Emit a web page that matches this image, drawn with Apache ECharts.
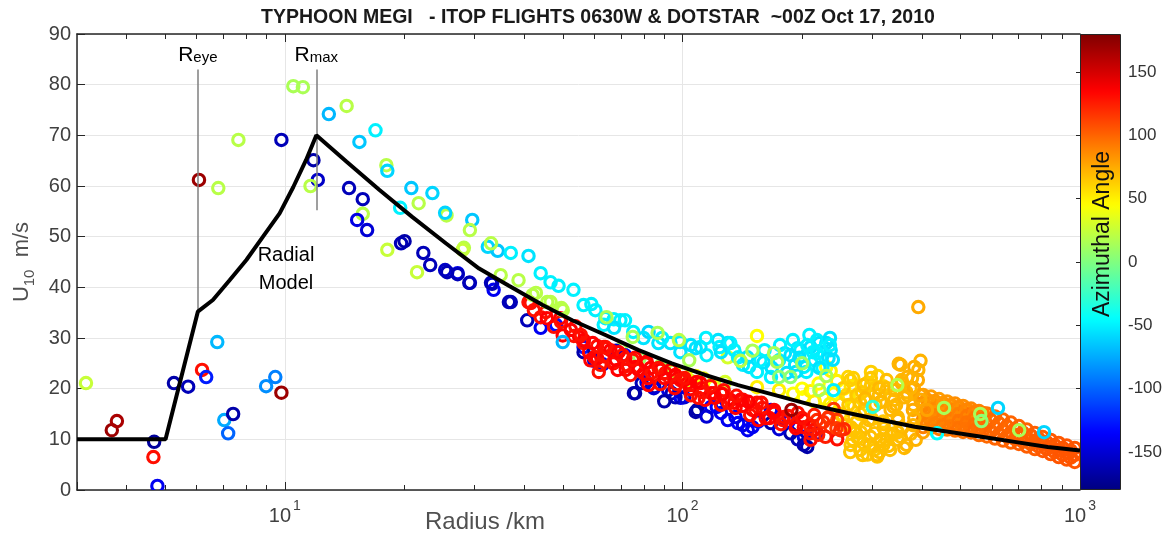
<!DOCTYPE html>
<html>
<head>
<meta charset="utf-8">
<script src="https://cdn.jsdelivr.net/npm/echarts@6/dist/echarts.min.js"></script>
<style>
  html, body { margin: 0; padding: 0; background: #fff; }
  #chart { width: 1165px; height: 536px; }
</style>
</head>
<body>
<div id="chart"></div>
<script>
// Observations: [radius km, U10 m/s, azimuthal angle deg]
const coreObs = [
  [3.16,21.1,25],[3.67,11.8,170],[3.78,13.6,165],[4.69,9.5,-170],[4.67,6.5,130],[4.78,0.8,-140],
  [5.26,21.1,-165],[5.71,20.4,-160],[6.19,23.7,130],[6.34,22.3,-125],[6.76,29.2,-70],[7.04,13.8,-75],
  [7.2,11.2,-100],[7.41,15.0,-165],[8.97,20.5,-85],[9.46,22.3,-90],[9.8,19.2,170],
  [6.08,61.2,170],[6.8,59.6,20],[7.64,69.1,20],[9.8,69.1,-160],[10.5,79.7,15],[11.1,79.5,15]
];
const eyewallObs = [
  [11.8,65.1,-165],[12.1,61.2,-155],[11.6,60.0,20],[12.9,74.2,-70],[14.3,75.8,20],[14.5,59.6,-160],
  [15.4,68.7,-65],[16.9,71.0,-50],[18.0,64.1,20],[18.1,63.0,-60],[15.7,57.4,-160],[15.7,54.5,20],
  [15.2,53.3,-145],[16.1,51.3,-150],[19.5,55.7,-50],[20.8,59.6,-65],[21.7,56.6,20],[23.5,58.6,-60],
  [25.5,54.2,20],[25.3,54.7,-60],[29.6,53.3,-65],[29.2,51.3,20],[19.6,48.7,-160],[20.0,49.1,-165],
  [18.1,47.4,25],[22.3,46.8,-160],[23.2,44.4,-160],[21.5,43.0,25],[25.3,43.4,-155],[27.2,42.8,-140],
  [29.1,40.9,-160],[28.0,47.4,25],[25.6,43.0,-160],[27.2,42.6,-160],[29.2,40.9,-160],[33.0,40.9,-160]
];
const upperObs = [
  [28.2,47.8,20],[32.4,48.0,-60],[34.3,47.2,-65],[33.0,48.7,20],[37.0,46.8,-50],[41.0,46.2,-55],
  [34.9,42.4,20],[38.7,41.4,20],[44.0,42.8,-50],[46.6,41.0,-50],[48.8,40.3,-50],[53.2,39.5,-50],
  [42.0,38.5,20],[45.7,37.1,20],[50.0,35.5,20],[56.4,36.5,-50],[59.0,36.7,-50],[60.4,35.5,-50],
  [64.0,33.9,-50],[67.2,33.7,-50],[69.8,33.5,-50],[71.7,33.5,-50],[82.2,31.2,-60],[87.0,29.0,-55],
  [93.3,29.0,-55],[98.8,29.2,-50],[98.8,27.2,-55],[108,28.0,-55],[115,26.6,-50],[123,29.6,-55],
  [124,28.2,-50],[130,29.0,-55],[138,26.2,-50],[142,24.7,-50],[147,24.3,-55],[154,23.3,-50],
  [160,25.2,-55],[175,25.6,-50],[181,27.0,-55],[198,27.6,-50],[210,28.2,-55],[221,29.0,-55],
  [236,27.6,-55],[223,26.2,-50],[202,24.3,-50],[183,23.1,-55],[167,22.3,-50],[111,28.2,-55],
  [132,29.0,-50],[157,25.6,-50],[195,28.0,-55],[206,28.6,-50],[230,29.0,-55],[218,27.0,-50],
  [192,24.7,-55],[215,25.6,-50],[233,26.0,-55],[218,29.6,-50],[235,30.0,-55],[205,23.3,-50],
  [187,26.6,-55],[225,24.1,-50],
  [63.4,32.6,-50],[67.3,32.0,-55],[75.2,31.2,-50],[79.8,30.0,-55],[88.9,30.0,-50],[105,28.6,-55],
  [114.6,30.0,-50],[125,27.2,-55],[135,27.6,-50],[145.7,26.2,-55],[160.9,27.6,-50],[167.8,24.1,-55],
  [189.6,29.6,-50],[196.8,26.1,-55],[213,27.2,-50],[221,24.1,-55],[235,28.6,-50],[239,25.7,-55],
  [208.6,30.6,-50],[193,23.3,-55],[176,28.6,-50],
  [98,29.6,20],[64.4,34.1,15],[75,30.2,15],[86.6,31.0,15],[104,25.6,15],[170,27.0,15],
  [175,22.3,5],[187,22.3,5],[221,19.7,15],[173,25.3,15],[42.8,38.9,20],[46.6,37.1,20],[49.6,35.9,20],
  [150,27.5,15],[200,25.0,10],[140,25.5,20],[230,22.5,15]
];
const yellowObs = [
  [130,26.2,30],[154,30.4,45],[230,24.3,45],[202,18.3,45],[175,19.7,50],[154,20.3,50],
  [105,21.5,35],[113,22.0,40],[120,20.5,45],[128,21.3,30],[95,23.5,25],[88,24.5,15],[78,26.0,10],
  [70,27.8,15],[100,23.0,45],[108,22.5,40],
  [200,20.0,45],[210,19.5,50],[220,21.0,45],[228,18.0,50],[250,17.0,55],[270,16.5,60],[280,15.0,60],
  [300,14.0,65],[320,13.5,65],[236,23.5,50],[245,21.5,50],[255,20.0,50],[240,19.0,45],[262,18.5,55],
  [261,22.3,60],[265,20.5,55],[275,18.5,60],[290,21.0,60],[305,19.0,65],[320,20.5,65],[335,18.5,65],
  [310,22.5,60],[288,17.8,65],[190,19.0,45],[215,17.5,50],[235,17.0,50],[250,15.0,55],
  [269,22.1,62],[283,19.3,65],[298,20.7,65],[312,18.7,68],[327,20.1,68],[341,17.8,70],[298,23.3,62],
  [356,21.7,70],[366,19.3,70],[381,16.8,72],[334,15.8,70],[306,16.8,68],[280,17.2,65],[258,18.7,60],
  [253.7,20.1,65],[264.3,21.7,62],[274,18.7,65],[285.7,20.7,68],[297.9,22.1,65],[312.3,20.1,70],
  [326.3,21.7,68],[341.5,19.7,70],[355.9,21.1,72],[368,18.7,72],[382,20.1,75],[396.6,18.7,78],
  [261.6,16.8,65],[287.4,15.8,68],[315.9,17.4,70],[344.6,16.8,72],[379.9,15.8,75],
  [270,11.8,66],[302,8.5,66],[265,12.4,66],[281,11.4,66],[297,10.5,68],[315,9.9,68],[334,10.8,68],
  [354,10.5,68],[285,9.3,66],[304,7.9,66],[268,9.9,66],[320,8.9,68],[348,11.4,68],
  [258,12.8,66],[273,11.4,66],[288,12.4,68],[304,11.2,68],[321,12.2,68],[339,11.1,68],[357,12.2,70],
  [375,11.1,70],[265,8.9,66],[280,7.9,66],[296,8.9,68],[313,7.5,68],[330,8.7,68],[348,9.9,68],
  [366,8.9,70],[292,7.0,66],[309,6.6,66],[276,10.3,66],[326,9.9,68],
  [253.7,14.2,66],[274,13.4,66],[294.5,13.8,68],[320.8,13.0,68],[348.5,13.8,70],[380.2,12.8,72],
  [264.3,7.5,66],[284,6.9,66],[308.7,6.9,68],[332.8,7.9,68],[361.4,8.3,70],[386.2,9.9,72],[402.7,11.4,78],
  [288,18.1,70],[315,17.4,70],[340,16.4,70],[361,18.3,72],[375,20.1,72],[391,21.7,75],[383,24.3,75],
  [354,24.7,72],[368,22.3,72],[397,17.8,75],[348,14.4,70],[383,14.2,72],[412,15.8,78],
  [392,36.1,75],[350,24.9,72],[397,25.5,72],[392,23.7,72],[378,22.1,72]
];
const orangeBandObs = [
  [403,18.75,80],[403,17.17,85],[403,15.59,88],[403,14.01,88],[403,12.43,90],
  [422,18.45,80],[422,16.97,85],[422,15.39,88],[422,13.82,90],[422,12.33,90],
  [442,17.96,80],[442,16.48,85],[442,15.00,90],[442,13.52,90],[442,12.04,92],
  [463,17.47,82],[463,16.08,88],[463,14.70,90],[463,13.32,92],[463,11.94,92],
  [485,17.07,85],[485,15.79,90],[485,14.41,92],[485,13.03,95],[485,11.74,95],
  [508,16.58,85],[508,15.30,92],[508,14.01,95],[508,12.73,95],[508,11.45,95],
  [532,16.08,88],[532,14.90,95],[532,13.72,95],[532,12.53,95],[532,11.35,97],
  [557,15.59,90],[557,14.41,95],[557,13.22,97],[557,12.04,97],[557,10.85,97],
  [583,15.10,95],[583,12.83,98],[583,10.56,98],
  [611,14.51,97],[611,12.33,100],[611,10.16,100],
  [640,13.91,98],[640,11.84,100],[640,9.77,100],
  [670,13.32,100],[670,11.35,100],[670,9.37,100],
  [702,12.63,100],[702,10.85,102],[702,9.08,102],
  [735,11.94,100],[735,10.26,102],[735,8.58,102],
  [770,11.25,102],[770,9.67,102],[770,8.09,102],
  [806,10.46,102],[806,9.08,104],[806,7.70,104],
  [844,9.87,104],[844,8.49,104],[844,7.10,104],
  [884,9.28,104],[884,7.89,105],[884,6.51,105],
  [926,8.78,105],[926,7.40,105],[926,6.02,105],
  [970,8.29,105],[970,6.91,105],[970,5.53,105],
  [412.1,17.86,82],[412.1,16.28,86],[412.1,14.70,88],[412.1,13.12,90],
  [431.7,17.56,82],[431.7,15.99,86],[431.7,14.41,88],[431.7,13.03,90],
  [452.1,17.17,82],[452.1,15.69,88],[452.1,14.21,90],[452.1,12.73,92],
  [473.5,16.78,84],[473.5,15.30,88],[473.5,13.91,92],[473.5,12.53,92],
  [495.9,16.38,86],[495.9,15.00,90],[495.9,13.62,94],[495.9,12.24,95],
  [519.4,15.89,88],[519.4,14.60,93],[519.4,13.32,95],[519.4,12.04,95],
  [543.9,15.39,90],[543.9,14.21,95],[543.9,13.03,96],[543.9,11.84,97],
  [569.6,15.20,92],[569.6,14.01,96],[569.6,12.83,97],[569.6,11.64,98],
  [596.6,13.82,98],[596.6,11.45,100],
  [624.8,13.22,98],[624.8,11.05,100],
  [654.4,12.63,100],[654.4,10.56,100],
  [685.3,12.04,100],[685.3,10.07,101],
  [717.8,11.35,100],[717.8,9.57,102],
  [751.7,10.76,102],[751.7,9.08,102],
  [787.3,10.16,102],[787.3,8.58,103],
  [824.5,9.47,103],[824.5,8.09,104],
  [863.6,8.88,104],[863.6,7.50,104],
  [904.5,8.29,105],[904.5,6.91,105],
  [947.3,7.80,105],[947.3,6.41,105]
];
const redObs = [
  [41,37.1,130],[44,34.1,130],[41.5,36.9,130],[47.5,32.2,130],[50,30.5,135],[55,30.2,135],
  [61,26.0,135],[64,28.2,130],[67,25.0,135],[72,23.7,135],[77,24.3,135],[80,23.0,135],
  [88,23.7,135],[95,22.3,135],[103,21.1,135],[118,19.1,135],[135,17.2,135],
  [56.4,29.0,130],[63.4,28.2,130],[60,26.2,135],[67.2,25.2,130],[71.8,26.0,130],[76.2,24.3,135],
  [80.7,25.0,130],[83.1,24.1,135],[90.6,23.1,130],[96,22.7,135],[98.8,21.7,130],[105,20.7,135],
  [112,20.1,130],[120,19.1,135],[127,19.7,130],[132,17.8,135],[142,17.8,130],[150,15.8,135],
  [158,17.2,130],[170,15.8,135],[180,14.4,130],[195,15.2,130],[202,12.4,135],[210,11.2,130],
  [218,13.8,120],[236,12.4,115],[245,13.8,110],
  [101,21.7,130],[111,21.1,135],[125,19.1,130],[140,17.8,135],[154,17.2,130],[170,15.2,130],
  [202,13.8,135],[214,11.8,130],[233,14.4,110],
  [58.7,25.6,135],[62.2,24.7,130],[68.7,23.7,135],[74,22.7,130],[81.8,22.1,135],[88,20.9,130],
  [95.6,20.1,135],[105,18.7,130],[114,17.8,135],[125,16.8,130],[136,16.2,135],[148,14.8,130],
  [162,14.2,135],[177,13.0,130],[193,12.2,135],[210,9.9,130],[229,10.5,125],
  [45.3,35.1,130],[49.3,33.9,135],[53.8,32.3,130],[240,16.0,115],[245,10.0,130],[255,12.0,120],
  [58.2,27.2,135],[63.4,26.4,130],[68.0,25.7,135],[72.9,24.5,130],[77.6,23.7,135],[83.7,23.1,130],
  [90.1,22.1,135],[96.8,20.9,130],[104.6,19.9,135],[112.5,19.3,130],[120.8,18.2,135],[130.3,17.2,130],
  [141.5,16.6,135],[152.5,15.8,130],[165.5,14.2,135],[179,13.8,130],[193,12.8,135],[209,12.8,125],
  [226,13.4,120],[244,12.2,115],
  [53.3,30.4,130],[56.5,29.6,135],[61.0,28.4,130],[65.9,27.6,135],[70.7,26.6,130],[76.0,26.1,135],
  [42.3,35.5,130],[45.6,33.9,135],[49.5,33.2,130],[52.4,31.6,135],[55.5,30.6,130],[59.5,29.0,135],
  [64.5,28.0,130],[69.1,27.2,135],[75.0,25.7,130],[81.3,25.3,135],[87.1,24.1,130],[93.4,23.7,135],
  [101.2,22.1,130],[108.5,21.3,135],[117.6,20.5,130],[126.1,18.9,135],[136.7,18.6,130],[146.5,17.4,135],
  [158.9,16.2,130],[170.3,15.4,135],[184.6,14.6,130],[200.1,14.2,130],[214.5,14.8,125],[232.6,14.2,118],
  [249.3,11.8,120],[61.6,23.3,130],[82.2,20.7,135],[109.7,18.2,130],[155.2,13.8,135],[219.5,10.9,125]
];
const blueObs = [
  [33.2,40.7,-160],[33.5,39.5,-140],[37,37.1,-160],[40.7,33.5,-160],[44,32.0,-140],[48.1,32.6,-130],
  [36.6,37.1,-160],[56.4,28.2,-130],[71.7,26.6,-135],[76,19.1,-165],[79,21.1,-160],[85,20.3,-165],
  [94,19.1,-160],[99,18.2,-140],[109,15.8,-165],[122,16.4,-135],[138,13.2,-135],
  [56.4,27.2,-165],[75.5,19.1,-165],[81.2,21.3,-145],[84.7,20.1,-150],[92.1,19.7,-145],[96,18.3,-160],
  [101,18.3,-150],[108,15.4,-165],[118,16.4,-135],[125,15.2,-140],[136,14.4,-140],[142,12.8,-145],
  [150,12.4,-140],[167,13.2,-165],[167,15.8,-140],[187,11.2,-165],[202,10.5,-140],[206,8.5,-165],
  [218,11.2,-140],[146,11.8,-140],[214,11.8,-140],[202,8.9,-165],[68,27.5,-150],[63,24.8,-140],
  [115,14.5,-150],[130,13.8,-140],[155,13.5,-135],[175,12.0,-150],[195,10.0,-160],[185,13.5,-135],
  [90,17.5,-165],[60,25.5,-150]
];
const accentObs = [
  [455,16.2,15],[437,11.2,-45],[561,15.0,15],[565,13.6,5],[622,16.2,-60],[703,11.8,15],
  [812,11.4,-60],[347,20.7,20],[301,16.4,-30],[240,19.7,-50],[50,29.2,-70],[188,15.8,170]
];

// Radial wind model
const modelRadius = [3, 5.01, 6.04, 6.59, 7.26, 8.0, 8.81, 9.7, 10.5, 11.3, 12.0, 14.3, 17.3, 20.9,
  25.4, 30.8, 36.6, 44.5, 52.8, 64.0, 77.6, 94.0, 114, 138, 211, 261, 317, 384, 466, 565, 685, 830, 1000];
const modelSpeed = [10, 10, 35.2, 37.5, 41.4, 45.4, 50.0, 54.6, 59.8, 65.1, 70.0, 64.8, 59.2, 53.9,
  48.7, 43.7, 40.3, 36.5, 33.5, 30.6, 27.6, 25.0, 22.7, 20.7, 16.8, 15.2, 13.8, 12.5, 11.5, 10.5, 9.5, 8.5, 7.8];
const rEye = 6.04, rMax = 12.0;

// Axis ticks
const xMinorTicks = [4,5,6,7,8,9,20,30,40,50,60,70,80,90,200,300,400,500,600,700,800,900];
const xMajorTicks = [10, 100, 1000];
const angleTicks = [-150,-100,-50,0,50,100,150];

// MATLAB jet colormap, evenly spaced stops
const jet = ['#000080','#0000ff','#0080ff','#00ffff','#80ff80','#ffff00','#ff8000','#ff0000','#800000'];

const FONT = '"Liberation Sans", Arial, Helvetica, sans-serif';
const AX = '#262626';
const GRID_C = '#e6e6e6';

const observations = [].concat(orangeBandObs, yellowObs, blueObs, redObs, upperObs, eyewallObs, coreObs, accentObs);

const chart = echarts.init(document.getElementById('chart'), null, { renderer: 'canvas' });

function logAxis(extra) {
  return Object.assign({
    type: 'log', logBase: 10, min: 3, max: 1000, gridIndex: 0,
    axisLine: { show: false }, axisLabel: { show: false }, splitLine: { show: false },
    axisTick: { show: false }
  }, extra);
}

const option = {
  animation: false,
  backgroundColor: '#fff',
  title: {
    text: 'TYPHOON MEGI   - ITOP FLIGHTS 0630W & DOTSTAR  ~00Z Oct 17, 2010',
    left: 598, top: 8, textAlign: 'center', padding: 0,
    textStyle: { fontFamily: FONT, fontWeight: 'bold', fontSize: 19.5, color: '#1a1a1a' }
  },
  grid: [
    { left: 77, top: 34, width: 1003, height: 456, show: false },
    { left: 1080, top: 34, width: 41, height: 456, show: false }
  ],
  xAxis: [
    logAxis({
      position: 'bottom',
      axisLine: { show: true, onZero: false, lineStyle: { color: AX, width: 1.5 } },
      axisTick: { show: true, inside: true, length: 8, lineStyle: { color: AX } },
      splitLine: { show: true, lineStyle: { color: GRID_C, width: 1 } },
      axisLabel: {
        show: true, margin: 9,
        formatter: v => {
          const e = Math.log10(v);
          if (Math.abs(e - Math.round(e)) > 1e-6) return '';
          return '{b|10}{e|' + Math.round(e) + '}';
        },
        rich: {
          b: { fontSize: 20, color: '#404040', fontFamily: FONT, padding: [7, 0, 0, 0] },
          e: { fontSize: 14, color: '#404040', fontFamily: FONT, verticalAlign: 'top', padding: [0, 0, 0, 2] }
        }
      }
    }),
    logAxis({
      position: 'bottom',
      axisTick: { show: true, inside: true, length: 5, customValues: xMinorTicks, lineStyle: { color: AX } }
    }),
    logAxis({
      position: 'top',
      axisLine: { show: true, onZero: false, lineStyle: { color: AX, width: 1.5 } },
      axisTick: { show: true, inside: true, length: 8, customValues: xMajorTicks, lineStyle: { color: AX } }
    }),
    logAxis({
      position: 'top',
      axisTick: { show: true, inside: true, length: 5, customValues: xMinorTicks, lineStyle: { color: AX } }
    }),
    { type: 'value', gridIndex: 1, show: false, min: 0, max: 1 }
  ],
  yAxis: [
    {
      type: 'value', gridIndex: 0, min: 0, max: 90, interval: 10,
      axisLine: { show: true, onZero: false, lineStyle: { color: AX, width: 1.5 } },
      axisTick: { show: true, inside: true, length: 8, lineStyle: { color: AX } },
      axisLabel: { fontSize: 20, color: '#404040', fontFamily: FONT, margin: 6 },
      splitLine: { show: true, lineStyle: { color: GRID_C, width: 1 } },
      name: '{u|U}{s|10}{u|  m/s}',
      nameLocation: 'middle', nameRotate: 90, nameGap: 40,
      nameTextStyle: {
        rich: {
          u: { fontSize: 22, color: '#505050', fontFamily: FONT },
          s: { fontSize: 15, color: '#505050', fontFamily: FONT, verticalAlign: 'bottom', padding: [0, 0, -5, 0] }
        }
      }
    },
    {
      type: 'value', gridIndex: 1, min: -180, max: 180, position: 'right',
      axisLine: { show: false },
      axisTick: { show: true, inside: true, length: 4, customValues: angleTicks, lineStyle: { color: AX } },
      axisLabel: { customValues: angleTicks, fontSize: 17, color: '#333', fontFamily: FONT, margin: 7 },
      splitLine: { show: false }
    }
  ],
  visualMap: {
    type: 'continuous', seriesIndex: 0, dimension: 2, min: -180, max: 180,
    calculable: false, hoverLink: false, realtime: false,
    inRange: { color: jet },
    left: 1080, top: 34, itemWidth: 41, itemHeight: 456, padding: 0,
    text: null, textStyle: { color: 'transparent' }
  },
  series: [
    {
      type: 'custom', name: 'obs', xAxisIndex: 0, yAxisIndex: 0, clip: true, z: 2,
      data: observations, encode: { x: 0, y: 1 },
      renderItem: (params, api) => {
        const p = api.coord([api.value(0), api.value(1)]);
        return {
          type: 'circle',
          shape: { cx: p[0], cy: p[1], r: 5.7 },
          style: { fill: 'none', stroke: api.visual('color'), lineWidth: 3.1 }
        };
      }
    },
    {
      type: 'line', name: 'Radial Model', xAxisIndex: 0, yAxisIndex: 0, z: 5,
      data: modelRadius.map((r, i) => [r, modelSpeed[i]]),
      symbol: 'none', smooth: false, silent: true,
      lineStyle: { color: '#000', width: 4 },
      markLine: {
        symbol: 'none', silent: true, animation: false,
        lineStyle: { color: '#7f7f7f', width: 1.5, type: 'solid' },
        label: {
          show: true, position: 'end', distance: 4,
          rich: {
            r: { fontSize: 21, color: '#000', fontFamily: FONT },
            s: { fontSize: 15, color: '#000', fontFamily: FONT, verticalAlign: 'bottom' }
          }
        },
        data: [
          [{ coord: [rEye, 35.2], label: { formatter: '{r|R}{s|eye}' } }, { coord: [rEye, 83] }],
          [{ coord: [rMax, 55.2], label: { formatter: '{r|R}{s|max}' } }, { coord: [rMax, 83] }]
        ]
      }
    }
  ],
  graphic: [
    {
      type: 'text', x: 286, y: 269, z: 10,
      style: { text: 'Radial\nModel', align: 'center', verticalAlign: 'middle', lineHeight: 28,
               font: '20px ' + FONT, fill: '#000' }
    },
    {
      type: 'text', x: 485, y: 522, z: 10,
      style: { text: 'Radius /km', align: 'center', verticalAlign: 'middle',
               font: '24px ' + FONT, fill: '#505050' }
    },
    {
      type: 'text', x: 1103, y: 234, rotation: Math.PI / 2, z: 20,
      style: { text: 'Azimuthal Angle', align: 'center', verticalAlign: 'middle',
               font: '23px ' + FONT, fill: '#111' }
    },
    {
      type: 'rect', z: 20, silent: true,
      shape: { x: 1080.5, y: 34.5, width: 40, height: 455 },
      style: { fill: 'none', stroke: AX, lineWidth: 1 }
    }
  ]
};

chart.setOption(option);
</script>
</body>
</html>
